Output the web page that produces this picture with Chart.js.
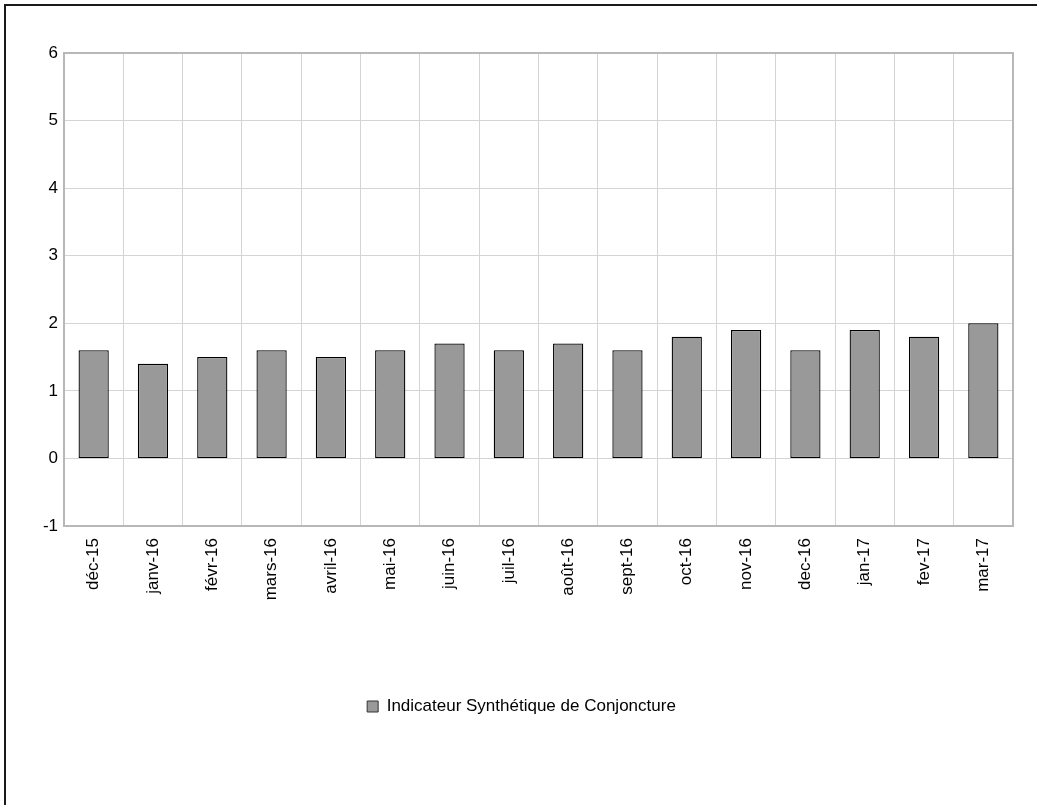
<!DOCTYPE html>
<html>
<head>
<meta charset="utf-8">
<script src="https://cdn.jsdelivr.net/npm/chart.js@4.4.0/dist/chart.umd.min.js"></script>
<style>
    html, body { margin: 0; padding: 0; background: #fff; overflow: hidden; }
    #frame { position: absolute; left: 4px; top: 4px; width: 1100px; height: 900px; border: 2px solid #1a1a1a; }
    #wrap { position: absolute; left: 0; top: 0; width: 1037px; height: 805px; }
</style>
</head>
<body>
<div id="frame"></div>
<div id="wrap"><canvas id="isc"></canvas></div>
<script>
// months shown on the x axis
const months = ['déc-15', 'janv-16', 'févr-16', 'mars-16', 'avril-16', 'mai-16', 'juin-16', 'juil-16',
    'août-16', 'sept-16', 'oct-16', 'nov-16', 'dec-16', 'jan-17', 'fev-17', 'mar-17'];
// Indicateur Synthétique de Conjoncture values
const iscValues = [1.6, 1.4, 1.5, 1.6, 1.5, 1.6, 1.7, 1.6, 1.7, 1.6, 1.8, 1.9, 1.6, 1.9, 1.8, 2.0];
const yTicks = [-1, 0, 1, 2, 3, 4, 5, 6];

// grey frame round the plot area, like the spreadsheet export
const plotFrame = {
    id: 'plotFrame',
    afterDatasetsDraw(chart) {
        const a = chart.chartArea;
        const c = chart.ctx;
        c.save();
        c.strokeStyle = '#b8b8b8';
        c.lineWidth = 2;
        c.strokeRect(a.left, a.top, a.right - a.left, a.bottom - a.top);
        c.restore();
    }
};

document.addEventListener('DOMContentLoaded', function() {
    Chart.defaults.font.family = '"Liberation Sans", Arial, sans-serif';
    Chart.defaults.font.size = 17;
    Chart.defaults.color = '#000';

    const ctx = document.getElementById('isc').getContext('2d');
    new Chart(ctx, {
        type: 'bar',
        data: {
            labels: months,
            datasets: [{
                label: 'Indicateur Synthétique de Conjoncture',
                data: iscValues,
                backgroundColor: '#999999',
                borderColor: '#000000',
                borderWidth: 1.3,
                borderSkipped: false,
                barPercentage: 0.51,
                categoryPercentage: 1
            }]
        },
        options: {
            responsive: true,
            maintainAspectRatio: false,
            animation: false,
            layout: { padding: { top: 53, right: 24, bottom: 80, left: 30 } },
            plugins: {
                tooltip: { enabled: false },
                legend: {
                    position: 'bottom',
                    labels: {
                        boxWidth: 11,
                        boxHeight: 11,
                        padding: 10,
                        color: '#000',
                        generateLabels: function(chart) {
                            const items = Chart.defaults.plugins.legend.labels.generateLabels(chart);
                            items.forEach(it => { it.lineWidth = 1; it.strokeStyle = '#333'; });
                            return items;
                        }
                    }
                }
            },
            scales: {
                x: {
                    grid: { color: '#d4d4d4', lineWidth: 1, drawTicks: false, offset: true },
                    border: { color: '#b8b8b8', width: 2 },
                    ticks: { minRotation: 90, maxRotation: 90, padding: 12, color: '#000' },
                    afterFit: function(axis) { axis.height = 162; }
                },
                y: {
                    min: -1,
                    max: 6,
                    afterBuildTicks: function(axis) { axis.ticks = yTicks.map(v => ({ value: v })); },
                    grid: { color: '#d4d4d4', lineWidth: 1, drawTicks: false },
                    border: { color: '#b8b8b8', width: 2 },
                    ticks: { padding: 6, color: '#000' },
                    afterFit: function(axis) { axis.width = 34; }
                }
            }
        },
        plugins: [plotFrame]
    });
});
</script>
</body>
</html>
